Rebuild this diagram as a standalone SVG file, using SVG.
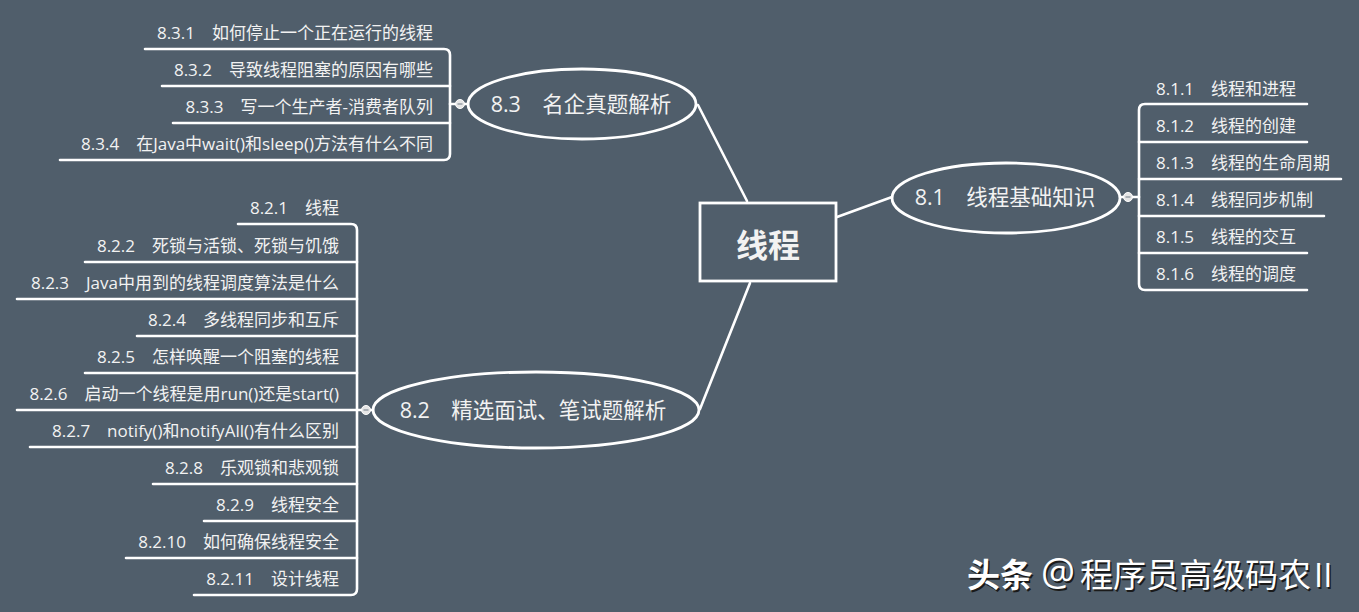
<svg xmlns="http://www.w3.org/2000/svg" width="1359" height="612" viewBox="0 0 1359 612">
<style>
.ln{fill:none;stroke:#ffffff;stroke-width:2.6;stroke-linecap:round;stroke-linejoin:round}
.sh{fill:none;stroke:#ffffff;stroke-width:2.8}
.leaf{font-family:"Open Sans","Noto Sans CJK SC",sans-serif;font-size:17px;fill:#f2f2f2}
.sub{font-family:"Open Sans","Noto Sans CJK SC",sans-serif;font-size:21.5px;fill:#f2f2f2;text-anchor:middle}
.L{text-anchor:end}
.dot{fill:#e6e6e6;stroke:#ffffff;stroke-width:1}
.dash{stroke:#8a939c;stroke-width:1.3}
.wm{font-family:"Open Sans","Noto Sans CJK SC",sans-serif;font-size:33px}
</style>
<rect x="0" y="0" width="1359" height="612" fill="#505e6b"/>

<g id="connectors">
  <line class="ln" x1="837" y1="217" x2="892" y2="197"/>
  <line class="ln" x1="698" y1="105" x2="747" y2="201"/>
  <line class="ln" x1="700" y1="409" x2="750" y2="283"/>
  <!-- 8.1 bracket -->
  <line class="ln" x1="1120" y1="197" x2="1139" y2="197"/>
  <path class="ln" d="M1307 104 H1145 Q1139 104 1139 110 V284 Q1139 290 1145 290 H1307"/>
  <path class="ln" d="M1139 142 H1307 M1139 179 H1341 M1139 216 H1324 M1139 253 H1307"/>
  <!-- 8.3 bracket -->
  <line class="ln" x1="468" y1="104" x2="450" y2="104"/>
  <path class="ln" d="M145 49 H444 Q450 49 450 55 V154 Q450 160 444 160 H60"/>
  <path class="ln" d="M450 86 H162 M450 123 H173"/>
  <!-- 8.2 bracket -->
  <line class="ln" x1="373" y1="410" x2="357" y2="410"/>
  <path class="ln" d="M238 224 H351 Q357 224 357 230 V589 Q357 595 351 595 H194"/>
  <path class="ln" d="M357 262 H85 M357 299 H17 M357 336 H137 M357 373 H85 M357 410 H17 M357 447 H30 M357 484 H153 M357 521 H204 M357 558 H126"/>
</g>

<g id="root">
  <rect class="sh" x="700" y="203" width="136" height="78"/>
  <text x="768" y="257" font-family="'Noto Sans CJK SC',sans-serif" font-size="32" font-weight="bold" fill="#f2f2f2" text-anchor="middle">线程</text>
</g>

<g id="n81">
  <ellipse class="sh" cx="1006" cy="198" rx="114" ry="35"/>
  <text class="sub" x="1005" y="205">8.1　线程基础知识</text>
  <circle class="dot" cx="1128" cy="197" r="4.5"/><line class="dash" x1="1125.5" y1="197" x2="1130.5" y2="197"/>
</g>
<g id="n811"><text class="leaf" x="1156" y="95">8.1.1　线程和进程</text></g>
<g id="n812"><text class="leaf" x="1156" y="132">8.1.2　线程的创建</text></g>
<g id="n813"><text class="leaf" x="1156" y="169">8.1.3　线程的生命周期</text></g>
<g id="n814"><text class="leaf" x="1156" y="206">8.1.4　线程同步机制</text></g>
<g id="n815"><text class="leaf" x="1156" y="243">8.1.5　线程的交互</text></g>
<g id="n816"><text class="leaf" x="1156" y="280">8.1.6　线程的调度</text></g>

<g id="n83">
  <ellipse class="sh" cx="582" cy="104" rx="114" ry="35"/>
  <text class="sub" x="581" y="112">8.3　名企真题解析</text>
  <circle class="dot" cx="460" cy="104" r="4.5"/><line class="dash" x1="457.5" y1="104" x2="462.5" y2="104"/>
</g>
<g id="n831"><text class="leaf L" x="433" y="39">8.3.1　如何停止一个正在运行的线程</text></g>
<g id="n832"><text class="leaf L" x="433" y="76">8.3.2　导致线程阻塞的原因有哪些</text></g>
<g id="n833"><text class="leaf L" x="433" y="113">8.3.3　写一个生产者-消费者队列</text></g>
<g id="n834"><text class="leaf L" x="433" y="150">8.3.4　在Java中wait()和sleep()方法有什么不同</text></g>

<g id="n82">
  <ellipse class="sh" cx="536" cy="410" rx="163" ry="38"/>
  <text class="sub" x="533" y="418">8.2　精选面试、笔试题解析</text>
  <circle class="dot" cx="366" cy="410" r="4.5"/><line class="dash" x1="363.5" y1="410" x2="368.5" y2="410"/>
</g>
<g id="n821"><text class="leaf L" x="339" y="214">8.2.1　线程</text></g>
<g id="n822"><text class="leaf L" x="339" y="252">8.2.2　死锁与活锁、死锁与饥饿</text></g>
<g id="n823"><text class="leaf L" x="339" y="289">8.2.3　Java中用到的线程调度算法是什么</text></g>
<g id="n824"><text class="leaf L" x="339" y="326">8.2.4　多线程同步和互斥</text></g>
<g id="n825"><text class="leaf L" x="339" y="363">8.2.5　怎样唤醒一个阻塞的线程</text></g>
<g id="n826"><text class="leaf L" x="339" y="400">8.2.6　启动一个线程是用run()还是start()</text></g>
<g id="n827"><text class="leaf L" x="339" y="437">8.2.7　notify()和notifyAll()有什么区别</text></g>
<g id="n828"><text class="leaf L" x="339" y="474">8.2.8　乐观锁和悲观锁</text></g>
<g id="n829"><text class="leaf L" x="339" y="511">8.2.9　线程安全</text></g>
<g id="n8210"><text class="leaf L" x="339" y="548">8.2.10　如何确保线程安全</text></g>
<g id="n8211"><text class="leaf L" x="339" y="585">8.2.11　设计线程</text></g>

<g id="watermark">
  <text class="wm" fill="#1a1a1a" transform="translate(1.5,1.5)"><tspan x="967" y="587" font-weight="bold">头条</tspan><tspan x="1041" y="586" font-size="38">@</tspan><tspan x="1080" y="587">程序员高级码农</tspan><tspan x="1314" y="587">II</tspan></text>
  <text class="wm" fill="#ffffff"><tspan x="967" y="587" font-weight="bold">头条</tspan><tspan x="1041" y="586" font-size="38">@</tspan><tspan x="1080" y="587">程序员高级码农</tspan><tspan x="1314" y="587">II</tspan></text>
</g>
</svg>
